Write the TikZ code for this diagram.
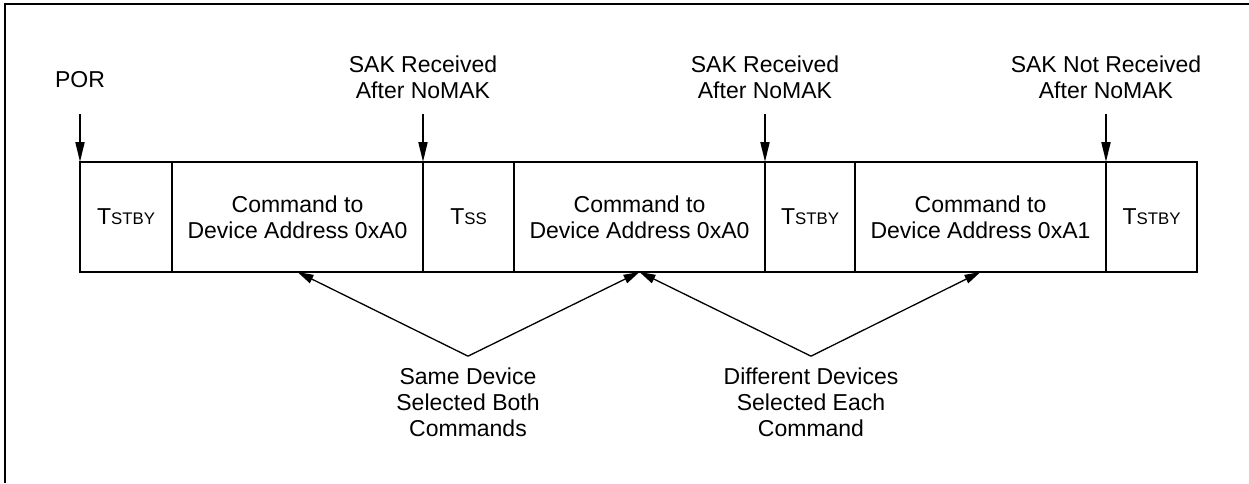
\documentclass[tikz,border=0pt]{standalone}
\usepackage{fontspec}
\setmainfont{Liberation Sans}
\usetikzlibrary{arrows.meta,positioning}
\def\Tsub#1{T{\fontsize{8.4}{10}\selectfont #1}}

\begin{document}
\begin{tikzpicture}[x=0.5pt, y=-0.5pt,
		font=\fontsize{11.5}{13}\selectfont,
		slot/.style={draw, line width=1.1pt, minimum height=55pt, outer sep=0pt, inner sep=2pt, align=center},
		caption/.style={inner sep=0pt, align=center},
		drop/.style={line width=1pt, -{Triangle[length=10pt,width=4.5pt]}},
		pointer/.style={line width=0.65pt, -{Triangle[length=8pt,width=4.5pt]}}]
		%%%%% START %%%%%
		
		\useasboundingbox (0, 0) rectangle (1249, 483);
		\draw[line width=1pt] (5, 483) -- (5, 4) -- (1249, 4);
		
		% time slots
		\node[slot, minimum width=46pt, anchor=north west] (stby1) at (80, 162) {\Tsub{STBY}};
		\node[slot, minimum width=125.5pt, right=0pt of stby1] (cmd1) {Command to\\Device Address 0xA0};
		\node[slot, minimum width=45.5pt, right=0pt of cmd1] (tss) {\Tsub{SS}};
		\node[slot, minimum width=125.5pt, right=0pt of tss] (cmd2) {Command to\\Device Address 0xA0};
		\node[slot, minimum width=45pt, right=0pt of cmd2] (stby2) {\Tsub{STBY}};
		\node[slot, minimum width=125.5pt, right=0pt of stby2] (cmd3) {Command to\\Device Address 0xA1};
		\node[slot, minimum width=45.5pt, right=0pt of cmd3] (stby3) {\Tsub{STBY}};
		
		% events
		\node[caption] (por) at (80, 80) {POR};
		\node[caption] (sak1) at (423, 77) {SAK Received\\After NoMAK};
		\node[caption] (sak2) at (765, 77) {SAK Received\\After NoMAK};
		\node[caption] (nosak) at (1106, 77) {SAK Not Received\\After NoMAK};
		
		\draw[drop] ([yshift=24pt]stby1.north west) -- (stby1.north west);
		\draw[drop] ([yshift=24pt]cmd1.north east) -- (cmd1.north east);
		\draw[drop] ([yshift=24pt]cmd2.north east) -- (cmd2.north east);
		\draw[drop] ([yshift=24pt]cmd3.north east) -- (cmd3.north east);
		
		% notes
		\node[caption] (same) at (468, 402) {Same Device\\Selected Both\\Commands};
		\node[caption] (diff) at (811, 402) {Different Devices\\Selected Each\\Command};
		
		\draw[pointer] ([yshift=5.5pt]same.north) -- (cmd1.south);
		\draw[pointer] ([yshift=5.5pt]same.north) -- (cmd2.south);
		\draw[pointer] ([yshift=5.5pt]diff.north) -- (cmd2.south);
		\draw[pointer] ([yshift=5.5pt]diff.north) -- (cmd3.south);
		
		%%%%% END %%%%%
	\end{tikzpicture}
\end{document}
